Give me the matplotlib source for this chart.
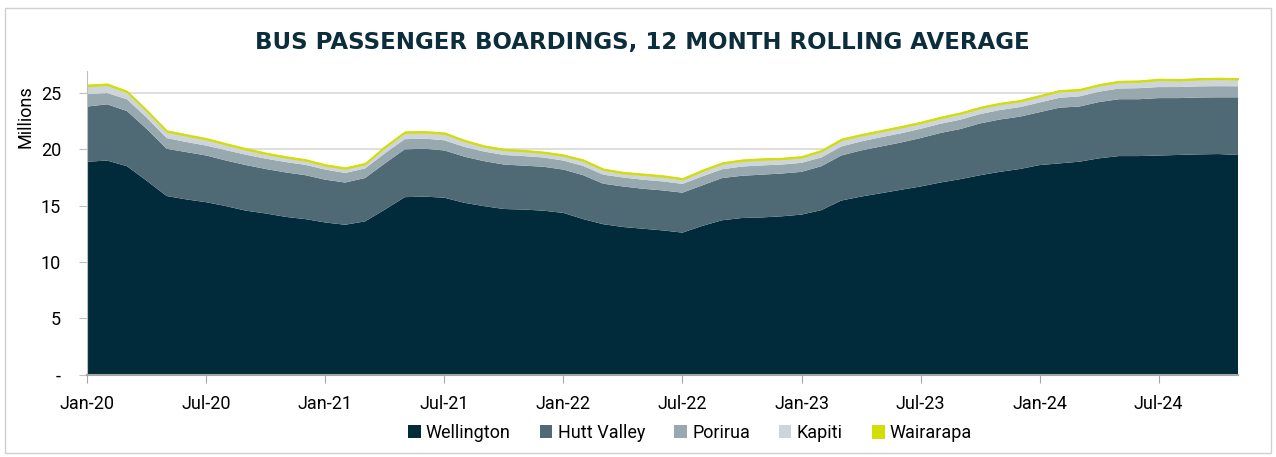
import matplotlib
matplotlib.use('Agg')
import matplotlib.pyplot as plt
from matplotlib.patches import Rectangle

plt.rcParams['font.family'] = ['Roboto', 'DejaVu Sans']

# monthly points, Jan-20 .. Nov-24 (12 month rolling average, millions)
months = list(range(59))
tick_pos = [0, 6, 12, 18, 24, 30, 36, 42, 48, 54]
tick_labels = ['Jan-20', 'Jul-20', 'Jan-21', 'Jul-21', 'Jan-22',
               'Jul-22', 'Jan-23', 'Jul-23', 'Jan-24', 'Jul-24']
y_ticks = [0, 5, 10, 15, 20, 25]
y_labels = ['-', '5', '10', '15', '20', '25']

wellington = [18.9, 19.0, 18.5, 17.2, 15.85, 15.55, 15.3, 14.95, 14.55, 14.3,
              14.0, 13.8, 13.5, 13.3, 13.6, 14.65, 15.75, 15.8, 15.7, 15.25,
              14.95, 14.7, 14.65, 14.55, 14.35, 13.8, 13.35, 13.1, 12.95, 12.8,
              12.6, 13.2, 13.7, 13.9, 13.95, 14.05, 14.2, 14.6, 15.45, 15.8,
              16.1, 16.4, 16.7, 17.05, 17.35, 17.7, 18.0, 18.25, 18.6, 18.75,
              18.9, 19.2, 19.4, 19.4, 19.45, 19.5, 19.55, 19.58, 19.5]
hutt_valley = [4.9, 5.0, 4.9, 4.6, 4.2, 4.2, 4.15, 4.05, 4.05, 3.95,
               3.95, 3.9, 3.8, 3.75, 3.85, 4.1, 4.25, 4.25, 4.2, 4.1,
               4.0, 3.95, 3.9, 3.9, 3.85, 3.9, 3.6, 3.6, 3.55, 3.55,
               3.55, 3.6, 3.75, 3.75, 3.8, 3.8, 3.8, 3.9, 4.0, 4.1,
               4.15, 4.2, 4.3, 4.4, 4.45, 4.6, 4.65, 4.65, 4.7, 4.95,
               4.9, 5.0, 5.05, 5.05, 5.1, 5.05, 5.05, 5.04, 5.12]
porirua = [1.1, 1.0, 1.05, 1.0, 0.95, 0.9, 0.88, 0.92, 0.92, 0.92,
           0.92, 0.92, 0.9, 0.85, 0.85, 0.9, 0.9, 0.9, 0.9, 0.87,
           0.85, 0.85, 0.85, 0.82, 0.8, 0.82, 0.8, 0.8, 0.8, 0.8,
           0.78, 0.8, 0.78, 0.82, 0.82, 0.8, 0.8, 0.78, 0.8, 0.8,
           0.82, 0.82, 0.82, 0.82, 0.83, 0.83, 0.84, 0.85, 0.86, 0.88,
           0.9, 0.92, 0.95, 0.98, 0.98, 0.98, 0.99, 0.99, 0.98]
kapiti = [0.72, 0.72, 0.62, 0.58, 0.57, 0.57, 0.55, 0.5, 0.46, 0.42,
          0.4, 0.38, 0.35, 0.38, 0.38, 0.53, 0.58, 0.55, 0.58, 0.51,
          0.43, 0.43, 0.43, 0.41, 0.43, 0.46, 0.43, 0.38, 0.43, 0.43,
          0.4, 0.48, 0.5, 0.51, 0.51, 0.48, 0.48, 0.55, 0.58, 0.54,
          0.52, 0.53, 0.51, 0.51, 0.53, 0.53, 0.53, 0.51, 0.54, 0.57,
          0.54, 0.56, 0.57, 0.57, 0.62, 0.59, 0.62, 0.63, 0.61]
wairarapa = [0.13, 0.13, 0.13, 0.12, 0.12, 0.12, 0.12, 0.12, 0.12, 0.12,
             0.12, 0.12, 0.12, 0.12, 0.12, 0.12, 0.12, 0.12, 0.12, 0.12,
             0.12, 0.12, 0.12, 0.12, 0.12, 0.12, 0.12, 0.12, 0.12, 0.12,
             0.12, 0.12, 0.12, 0.12, 0.12, 0.12, 0.12, 0.12, 0.12, 0.12,
             0.12, 0.12, 0.12, 0.12, 0.12, 0.12, 0.12, 0.12, 0.12, 0.12,
             0.12, 0.12, 0.12, 0.12, 0.12, 0.12, 0.12, 0.12, 0.12]

series_names = ['Wellington', 'Hutt Valley', 'Porirua', 'Kapiti', 'Wairarapa']
colours = ['#012a3a', '#4f6a75', '#97a8ae', '#cdd5d8', '#d2de00']

W, H = 1276, 457
fig = plt.figure(figsize=(W / 100, H / 100), dpi=100)
fig.patches.append(Rectangle((5 / W, 4 / H), 1 - 10 / W, 1 - 12 / H,
                             transform=fig.transFigure, fill=False,
                             edgecolor='#d0d0d0', lw=1))

ax = fig.add_axes([87.3 / W, 1 - 374.5 / H, (1238 - 87.3) / W, (374.5 - 70.5) / H])
polys = ax.stackplot(months, wellington, hutt_valley, porirua, kapiti, wairarapa,
                     colors=colours, labels=series_names, lw=0)
polys[-1].set_edgecolor(colours[-1])
polys[-1].set_linewidth(0.7)

ax.set_xlim(0, 58)
ax.set_ylim(0, 27)
ax.set_xticks(tick_pos)
ax.set_xticklabels(tick_labels)
ax.set_yticks(y_ticks)
ax.set_yticklabels(y_labels)
ax.yaxis.grid(True, color='#d9d9d9', lw=1.2)
ax.set_axisbelow(True)

for s in ['top', 'right']:
    ax.spines[s].set_visible(False)
ax.spines['left'].set_color('#bfbfbf')
ax.spines['bottom'].set_color('#a6a6a6')
ax.spines['bottom'].set_linewidth(1.5)
ax.tick_params(axis='x', length=6, color='#a6a6a6', labelsize=13, pad=9)
ax.tick_params(axis='y', length=6, color='#bfbfbf', labelsize=13, pad=13)

fig.text(25 / W, 1 - 117 / H, 'Millions', rotation=90, ha='center', va='center', fontsize=13)
fig.text(642 / W, 1 - 43 / H, 'BUS PASSENGER BOARDINGS, 12 MONTH ROLLING AVERAGE',
         ha='center', va='center', fontsize=16.5, fontweight='bold', color='#0b2d3c',
         family=['DejaVu Sans'])

fig.legend(loc='center', bbox_to_anchor=(690 / W, 1 - 433 / H), ncol=5, frameon=False,
           fontsize=13, handlelength=0.7, handleheight=0.7, columnspacing=1.6,
           handletextpad=0.3)

fig.savefig('out.png', dpi=100)
